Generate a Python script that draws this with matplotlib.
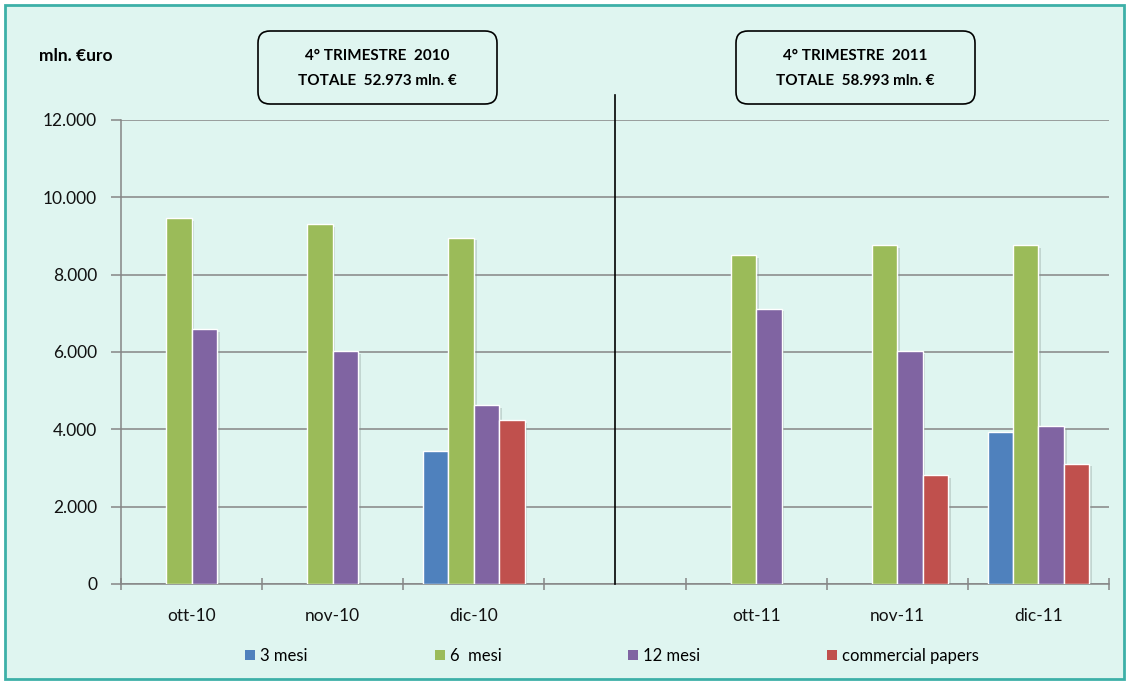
import matplotlib
matplotlib.use("Agg")
import matplotlib.pyplot as plt
import matplotlib.patheffects as pe
from matplotlib.patches import FancyBboxPatch, Rectangle, Patch
from matplotlib.transforms import IdentityTransform
from matplotlib.ticker import FuncFormatter, FixedLocator
import numpy as np

categories = ["ott-10", "nov-10", "dic-10", "", "ott-11", "nov-11", "dic-11"]
series_names = ["3 mesi", "6  mesi", "12 mesi", "commercial papers"]
mesi3 = [0, 0, 3450, 0, 0, 0, 3940]
mesi6 = [9460, 9310, 8960, 0, 8500, 8770, 8770]
mesi12 = [6590, 6030, 4620, 0, 7120, 6030, 4090]
commercial = [0, 0, 4240, 0, 0, 2810, 3115]
box_left = ["4° TRIMESTRE  2010", "TOTALE  52.973 mln. €"]
box_right = ["4° TRIMESTRE  2011", "TOTALE  58.993 mln. €"]
y_unit = "mln. €uro"

colors = ["#4F81BD", "#9BBB59", "#8064A2", "#C0504D"]
FONT = "Lato"
plt.rcParams['font.family'] = [FONT, 'DejaVu Sans']

W, H = 1129, 684
fig = plt.figure(figsize=(W / 100, H / 100), dpi=100)
fig.patch.set_facecolor("white")
bg = "#DFF5F0"
frame = Rectangle((5, 5), W - 10, H - 10, transform=IdentityTransform(),
                  facecolor=bg, edgecolor="#3DB0A8", linewidth=2, zorder=-10)
fig.patches.append(frame)

ax = fig.add_axes([121 / W, 1 - 584 / H, (1109 - 121) / W, (584 - 120) / H])
ax.set_facecolor("none")

x = np.arange(len(categories))
w = 0.18
data = [mesi3, mesi6, mesi12, commercial]
shadow = [pe.SimplePatchShadow(offset=(2, -2), shadow_rgbFace="#7f8f8c", alpha=0.3), pe.Normal()]
for i, (vals, c) in enumerate(zip(data, colors)):
    vals = np.array(vals, dtype=float)
    mask = vals > 0
    bars = ax.bar(x[mask] + (i - 1.5) * w, vals[mask], width=w, color=c,
                  edgecolor="white", linewidth=1.0, zorder=3)
    for b in bars:
        b.set_path_effects(shadow)

ax.set_xlim(-0.5, len(categories) - 0.5)
ax.set_ylim(0, 12000)
ax.set_yticks(np.arange(0, 12001, 2000))
ax.yaxis.set_major_formatter(FuncFormatter(lambda v, p: f"{int(v):,}".replace(",", ".")))
ax.grid(axis="y", color="#868686", linewidth=1.1, zorder=1)
ax.set_axisbelow(True)

ax.set_xticks(x)
ax.set_xticklabels(categories)
ax.xaxis.set_minor_locator(FixedLocator(np.arange(-0.5, len(categories), 1.0)))
ax.tick_params(axis="x", which="major", length=0, pad=17, labelsize=12.5, labelcolor="#111111")
ax.tick_params(axis="x", which="minor", length=8, direction="inout", color="#868686", width=1.1)
ax.tick_params(axis="y", length=7.2, direction="out", color="#868686", width=1.1, pad=10,
               labelsize=12.5, labelcolor="#111111")
for s in ["top", "right"]:
    ax.spines[s].set_visible(False)
for s in ["left", "bottom"]:
    ax.spines[s].set_color("#868686")
    ax.spines[s].set_linewidth(1.1)

# divider line between years
ax.plot([3, 3], [0, 12000 * (584 - 95) / 464], color="black", linewidth=1.2,
        clip_on=False, zorder=4)

# title boxes
for (x0, lines) in [(258, box_left), (736, box_right)]:
    box = FancyBboxPatch((x0, H - 104), 239, 73, boxstyle="round,pad=0,rounding_size=12",
                         transform=IdentityTransform(), facecolor="none",
                         edgecolor="black", linewidth=1.2, zorder=5)
    fig.patches.append(box)
    fig.text((x0 + 119.5) / W, 1 - 56 / H, lines[0], ha="center", va="center",
             fontsize=11, fontweight="bold")
    fig.text((x0 + 119.5) / W, 1 - 81 / H, lines[1], ha="center", va="center",
             fontsize=11, fontweight="bold")

fig.text(39 / W, 1 - 56 / H, y_unit, ha="left", va="center", fontsize=12.5, fontweight="bold")

handles = [Patch(facecolor=c, edgecolor="none") for c in colors]
fig.legend(handles, series_names, loc="center", bbox_to_anchor=(612 / W, 1 - 656 / H),
           ncol=4, frameon=False, fontsize=12, handlelength=0.6, handleheight=0.6,
           handletextpad=0.3, columnspacing=7.6)

fig.savefig("out.png", dpi=100)
